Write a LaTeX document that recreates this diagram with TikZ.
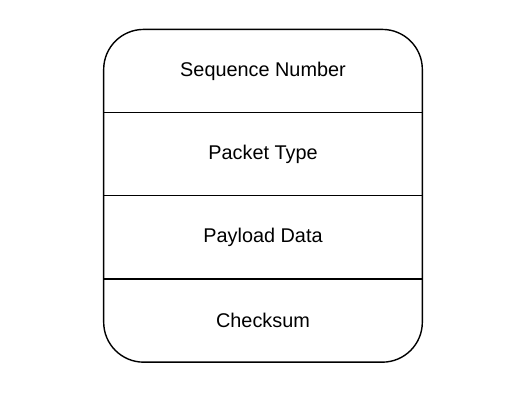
\documentclass[tikz,border=0pt]{standalone}
\usepackage{fontspec}
\setmainfont{Liberation Sans}
\usetikzlibrary{positioning}
\definecolor{ink}{HTML}{000000}
\tikzset{
  frame/.style={draw=ink, line width=0.8pt, rounded corners=0.8cm},
  field/.style={minimum width=6.36cm, minimum height=1.65cm, inner sep=0pt, font=\fontsize{11.3}{13}\selectfont, text=ink},
  sep/.style={draw=ink, line width=0.8pt},
}
\begin{document}
\begin{tikzpicture}[x=0.02cm,y=-0.02cm]
  \useasboundingbox (0,0) rectangle (526,400);
  \node[field] (seq) at (263,71) {Sequence Number};
  \node[field,below=0pt of seq] (type) {Packet Type};
  \node[field,below=0pt of type] (load) {Payload Data};
  \node[field,below=0pt of load] (check) {Checksum};
  % outer frame and field separators
  \draw[frame] (seq.north west) rectangle (check.south east);
  \draw[sep] (seq.south west) -- (seq.south east);
  \draw[sep] (type.south west) -- (type.south east);
  \draw[sep] (load.south west) -- (load.south east);
\end{tikzpicture}
\end{document}
